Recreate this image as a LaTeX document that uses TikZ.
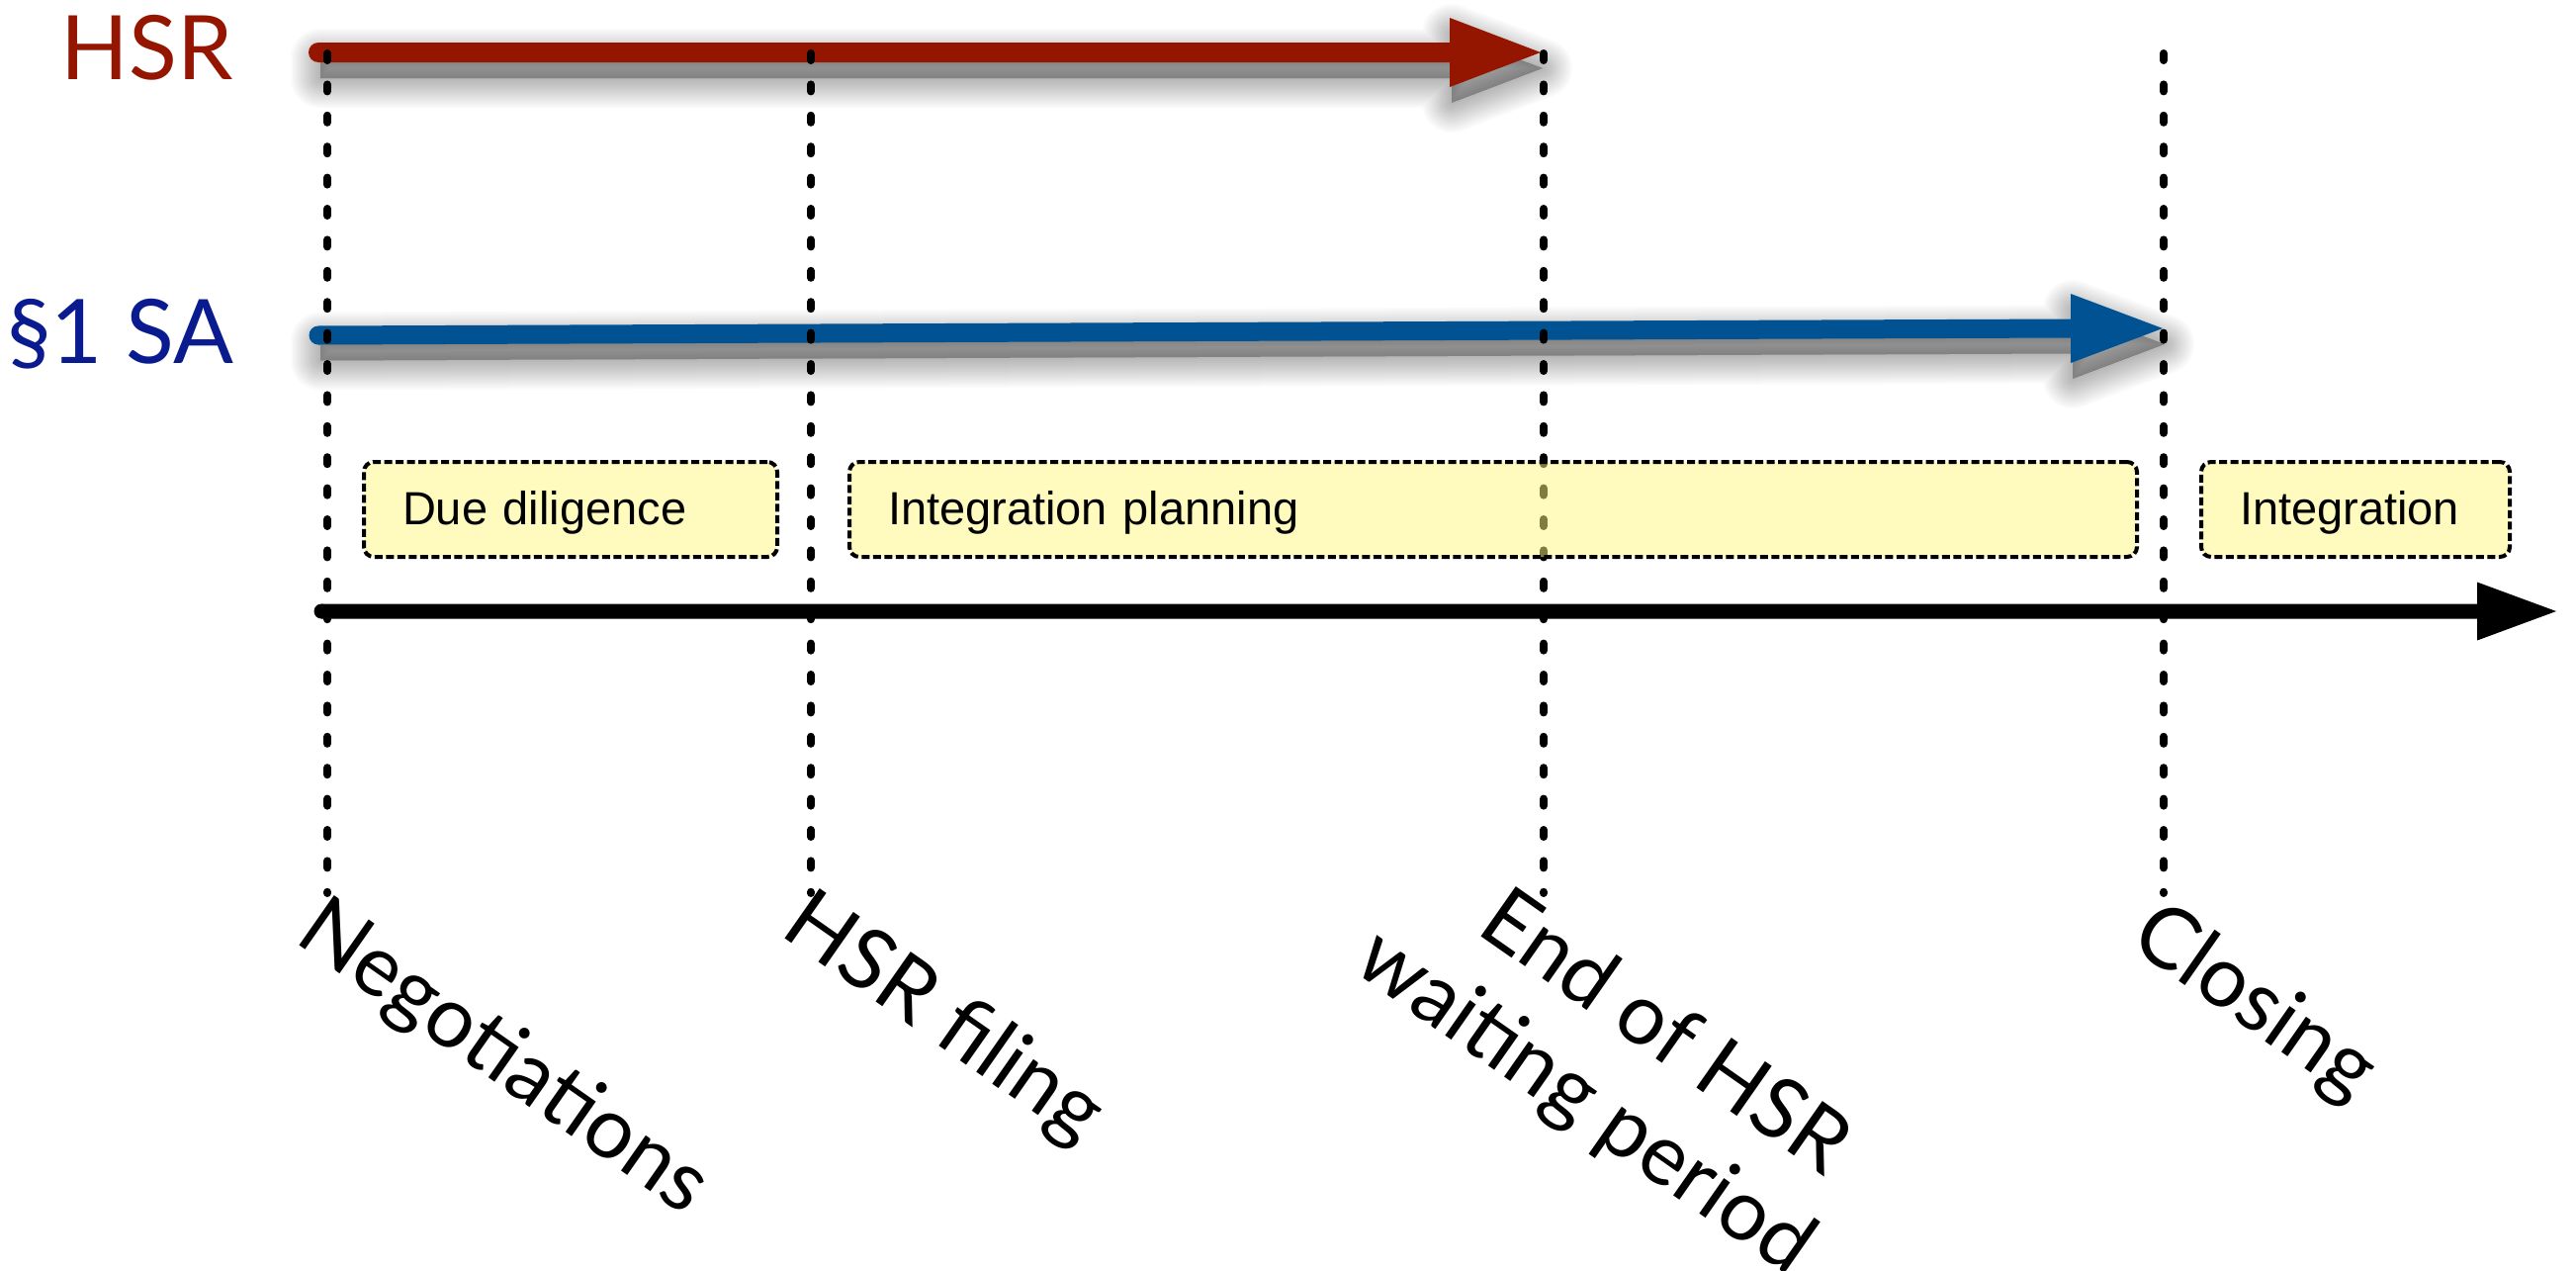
\documentclass[tikz,border=0pt]{standalone}
\usepackage{fontspec}
\setmainfont{Lato}
\newfontfamily\boxfont{Liberation Sans}
\usetikzlibrary{calc}

\definecolor{hsrred}{RGB}{148,22,0}
\definecolor{sablue}{RGB}{0,82,146}
\definecolor{satext}{RGB}{10,27,143}
\definecolor{phasefill}{RGB}{255,246,125}

% soft drop shadow under a timeline bar
% #1 start, #2 tip, #3 half shaft width, #4 head length, #5 half head width
\newcommand{\barshadow}[5]{%
  \begin{scope}[transform canvas={xshift=2pt,yshift=-16pt}]
    \foreach \lw in {60,56,...,4}{
      \filldraw[black, opacity=0.019, line width=\lw pt, line join=round]
        ($(#1)+(0,-#3)$) -- ($(#2)+(-#4,-#3)$) -- ($(#2)+(-#4,-#5)$) -- (#2)
        -- ($(#2)+(-#4,#5)$) -- ($(#2)+(-#4,#3)$) -- ($(#1)+(0,#3)$) -- cycle;
    }
  \end{scope}}

% timeline bar: round start, straight shaft, triangular head
% #1 start, #2 tip, #3 half shaft width, #4 head length, #5 half head width, #6 colour
\newcommand{\timebar}[6]{%
  \fill[#6] (#1) circle[radius=#3 pt];
  \fill[#6] ($(#1)+(0,-#3)$) -- ($(#2)+(-#4,-#3)$) -- ($(#2)+(-#4,-#5)$) -- (#2)
        -- ($(#2)+(-#4,#5)$) -- ($(#2)+(-#4,#3)$) -- ($(#1)+(0,#3)$) -- cycle;}

\tikzset{
  vline/.style={line width=8pt, line cap=round, dash pattern=on 7pt off 24.4pt, black},
  phase/.style={draw=black, line width=4pt, dash pattern=on 8pt off 3.5pt,
    rounded corners=10pt, fill=phasefill, fill opacity=0.5, text opacity=1,
    font=\boxfont\fontsize{47}{56}\selectfont, anchor=north west,
    minimum height=96pt, inner xsep=39pt, inner ysep=0pt,
    text height=35pt, text depth=5pt, align=left},
  rowlabel/.style={anchor=base east, inner sep=0pt, font=\fontsize{90}{108}\selectfont},
  milestone/.style={anchor=north west, inner sep=0pt, rotate=-35, align=left,
    font=\fontsize{86}{103}\selectfont}
}

\begin{document}
\begin{tikzpicture}[x=1pt,y=-1pt]
\fill[white] (0,0) rectangle (2605,1285);
\useasboundingbox (0,0) rectangle (2605,1285);

% row labels
\node[rowlabel, text=hsrred] (hsrlabel) at (236,80) {HSR};
\node[rowlabel, text=satext] (salabel) at (236,367) {§1 SA};

% bar end points
\coordinate (hsrS) at (322,53);
\coordinate (hsrT) at (1558,53);
\coordinate (saS) at (322,339);
\coordinate (saT) at (2187,332);
\coordinate (axS) at (325,618);
\coordinate (axT) at (2585,618);

% review periods with shadows
\barshadow{hsrS}{hsrT}{10}{92}{35}
\barshadow{saS}{saT}{9.5}{93}{35}
\timebar{hsrS}{hsrT}{10}{92}{35}{hsrred}
\timebar{saS}{saT}{9.5}{93}{35}{sablue}

% time axis
\timebar{axS}{axT}{7.5}{80}{29.5}{black}

% milestone markers
\foreach \n/\x in {1/331, 2/820, 3/1561, 4/2188}{
  \coordinate (top\n) at (\x,54);
  \coordinate (bot\n) at (\x,903);
  \draw[vline] (top\n) -- (bot\n);
}

% deal phases
\node[phase, text width=340pt] (dd) at (366,465) {Due diligence};
\node[phase, text width=1224pt] (plan) at (857,465) {Integration planning};
\node[phase, text width=234pt] (integ) at (2224,465) {Integration};

% milestone names
\node[milestone] (neg) at (333,900) {Negotiations};
\node[milestone] (filing) at (824,892) {HSR filing};
\node[milestone] (waitend) at (1462,844) {\hspace*{80pt}End of HSR\\waiting period};
\node[milestone] (closing) at (bot4) {Closing};
\end{tikzpicture}
\end{document}
